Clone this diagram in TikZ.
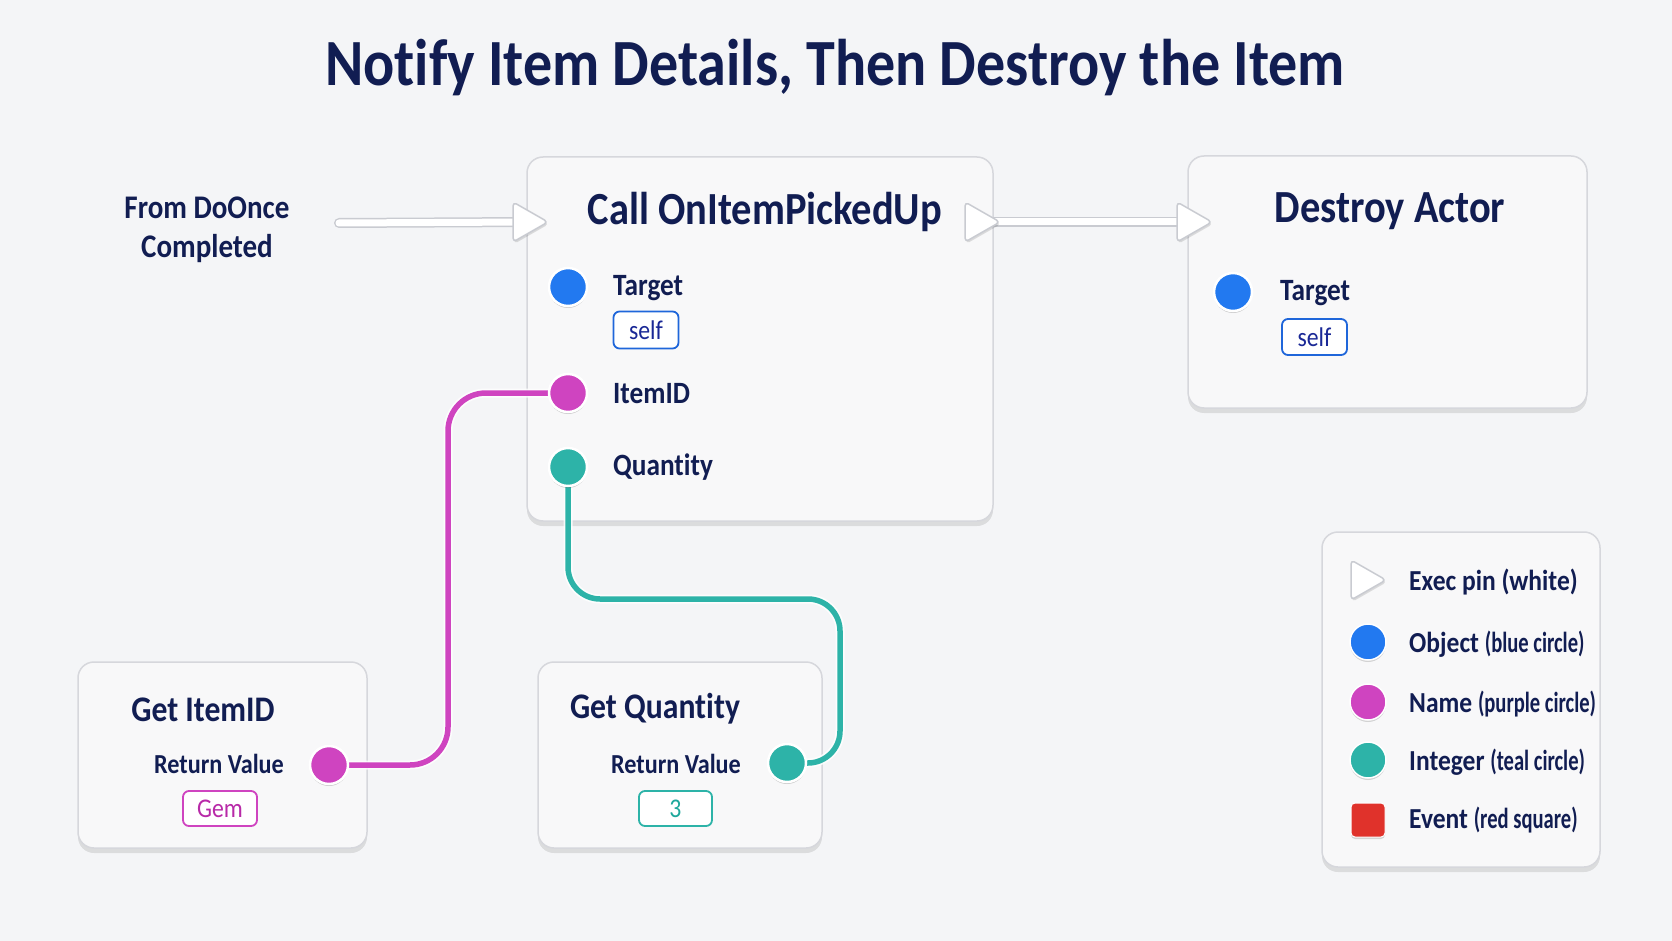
\documentclass[tikz,border=0pt]{standalone}
\usepackage{fontspec}
\setmainfont{Carlito}[FakeStretch=0.88, RawFeature={-liga;-clig;-calt}]
\newfontfamily\narrowf{Carlito}[FakeStretch=0.71, RawFeature={-liga;-clig;-calt}]
\usetikzlibrary{shadows}
\definecolor{bg}{HTML}{F4F5F7}
\definecolor{navy}{HTML}{111D52}
\definecolor{boxfill}{HTML}{F8F8F9}
\definecolor{boxline}{HTML}{D6D7DC}
\definecolor{execline}{HTML}{C9CBD1}
\definecolor{objblue}{HTML}{2279F0}
\definecolor{namepurple}{HTML}{CF44C0}
\definecolor{intteal}{HTML}{2DB3A8}
\definecolor{evred}{HTML}{E0322B}
\definecolor{selfblue}{HTML}{1F66DA}
\definecolor{selftext}{HTML}{1A2896}
\definecolor{gemtext}{HTML}{B82AA8}
\definecolor{numtext}{HTML}{1FA89C}
\newcommand\nolig{\kern0pt\relax}
\tikzset{
  nodebox/.style={draw=boxline, line width=1.5pt, fill=boxfill, rounded corners=16pt,
    drop shadow={shadow xshift=0pt, shadow yshift=-5pt, opacity=0.10, fill=black}},
  maintitle/.style={text=navy, font=\bfseries\fontsize{66}{72}\selectfont, anchor=base, inner sep=0pt},
  ntitle/.style={text=navy, font=\bfseries\fontsize{46}{52}\selectfont, anchor=base, inner sep=0pt},
  gtitle/.style={text=navy, font=\bfseries\fontsize{36}{42}\selectfont, anchor=base, inner sep=0pt},
  plabel/.style={text=navy, font=\bfseries\fontsize{31}{37}\selectfont, anchor=base west, inner sep=0pt},
  rlabel/.style={text=navy, font=\bfseries\fontsize{27.5}{33}\selectfont, anchor=base, inner sep=0pt},
  sidetext/.style={text=navy, font=\bfseries\fontsize{33}{38}\selectfont, align=center, inner sep=0pt},
  leglabel/.style={text=navy, font=\bfseries\fontsize{29}{34}\selectfont, anchor=base west, inner sep=0pt},
  valbox/.style={draw, line width=1.8pt, rounded corners=6pt, fill=white, inner sep=0pt,
    font=\fontsize{27}{32}\selectfont},
  pinc/.style={circle, fill=#1, draw=white, line width=2.5pt, minimum size=38pt, inner sep=0pt,
    drop shadow={shadow xshift=0pt, shadow yshift=-2pt, opacity=0.18, fill=black}},
  legpin/.style={circle, fill=#1, draw=white, line width=1.5pt, minimum size=36pt, inner sep=0pt,
    drop shadow={shadow xshift=0pt, shadow yshift=-2pt, opacity=0.15, fill=black}},
  execpin/.style={draw=execline, fill=white, line width=1.5pt, rounded corners=4pt, line join=round,
    drop shadow={shadow xshift=1pt, shadow yshift=-2pt, opacity=0.12, fill=black}},
  execwire/.style={draw=execline, line width=10pt, line cap=round, postaction={draw=white, line width=7pt, line cap=round}},
  datawire/.style={draw=#1, line width=5.5pt, rounded corners=38pt,
    preaction={draw=white, line width=9pt, opacity=0.8}},
}
\newcommand\myexec[2]{\draw[execpin] (#1-17,#2-20) -- (#1+18,#2) -- (#1-17,#2+20) -- cycle;}
\begin{document}
\begin{tikzpicture}[x=1pt,y=-1pt]
\fill[bg] (0,0) rectangle (1672,941);
\useasboundingbox (0,0) rectangle (1672,941);

% title
\node[maintitle] (title) at (835,86) {Not\nolig ify Item Details, Then Destroy the Item};

% node boxes
\node[nodebox, minimum width=466pt, minimum height=364pt] (call) at (760,339) {};
\node[nodebox, minimum width=399pt, minimum height=252pt] (destroy) at (1387.5,282) {};
\node[nodebox, minimum width=289pt, minimum height=186pt] (getid) at (222.5,755) {};
\node[nodebox, minimum width=284pt, minimum height=186pt] (getq) at (680,755) {};
\node[nodebox, minimum width=278pt, minimum height=335pt] (legend) at (1461,699.5) {};

% exec pin anchors
\coordinate (doonce) at (339,223);
\coordinate (cin) at (530,222);
\coordinate (cout) at (982,222);
\coordinate (din) at (1194,222);

% pin positions
\path (568,287) coordinate (ctgtp) (568,393) coordinate (cidp) (568,467) coordinate (cqp)
      (1233,292) coordinate (dtgtp) (329,765) coordinate (gidp) (787,763) coordinate (gqp);

% exec wires
\draw[execwire] (doonce) -- (cin);
\draw[execwire] (cout) -- (din);

% data wires
\draw[datawire=namepurple] (gidp) -- (448,765) -- (448,393) -- (cidp);
\draw[datawire=intteal, rounded corners=32pt] (cqp) -- (568,599) -- (840,599) -- (840,763) -- (gqp);

% exec pins
\myexec{530}{222}
\myexec{982}{222}
\myexec{1194}{222}

% data pins
\node[pinc=objblue] (ctgt) at (ctgtp) {};
\node[pinc=namepurple] (cid) at (cidp) {};
\node[pinc=intteal] (cq) at (cqp) {};
\node[pinc=objblue] (dtgt) at (dtgtp) {};
\node[pinc=namepurple] (gid) at (gidp) {};
\node[pinc=intteal] (gq) at (gqp) {};

% side text
\node[sidetext] (from) at (207,230) {From DoOnce\\[1pt]Completed};

% Call node texts
\node[ntitle] (calltitle) at (765,225) {Call OnItemPickedUp};
\node[plabel] (ctgtl) at (613,295) {Target};
\node[valbox, draw=selfblue, text=selftext, minimum width=65pt, minimum height=37pt] (cself) at (646,330) {self};
\node[plabel] (cidl) at (613,403) {ItemID};
\node[plabel] (cql) at (613,475) {Quant\nolig ity};

% Destroy node texts
\node[ntitle] (dtitle) at (1390,223) {Destroy Actor};
\node[plabel] (dtgtl) at (1280,300) {Target};
\node[valbox, draw=selfblue, text=selftext, minimum width=65pt, minimum height=36pt] (dself) at (1314.5,337) {self};

% Get ItemID texts
\node[gtitle] (gidt) at (203,721) {Get ItemID};
\node[rlabel] (gidr) at (219,773) {Return Value};
\node[valbox, draw=namepurple, text=gemtext, minimum width=74pt, minimum height=35pt] (gem) at (220,808.5) {Gem};

% Get Quantity texts
\node[gtitle] (gqt) at (655,718) {Get Quant\nolig ity};
\node[rlabel] (gqr) at (676,773) {Return Value};
\node[valbox, draw=intteal, text=numtext, minimum width=73pt, minimum height=35pt] (three) at (675.5,808.5) {3};

% legend
\myexec{1368}{580}
\node[legpin=objblue] (lobj) at (1368,642) {};
\node[legpin=namepurple] (lname) at (1368,702) {};
\node[legpin=intteal] (lint) at (1368,760) {};
\node[draw=white, line width=1pt, fill=evred, rounded corners=4pt, minimum size=34pt, inner sep=0pt,
  drop shadow={shadow xshift=0pt, shadow yshift=-2pt, opacity=0.15, fill=black}] (lev) at (1368,820) {};
\node[leglabel] (l1) at (1409,590) {Exec pin (white)};
\node[leglabel] (l2) at (1409,652) {Object {\narrowf (blue circle)}};
\node[leglabel] (l3) at (1409,712) {Name {\narrowf (purple circle)}};
\node[leglabel] (l4) at (1409,770) {Integer {\narrowf (teal circle)}};
\node[leglabel] (l5) at (1409,828) {Event {\narrowf (red square)}};
\end{tikzpicture}
\end{document}
